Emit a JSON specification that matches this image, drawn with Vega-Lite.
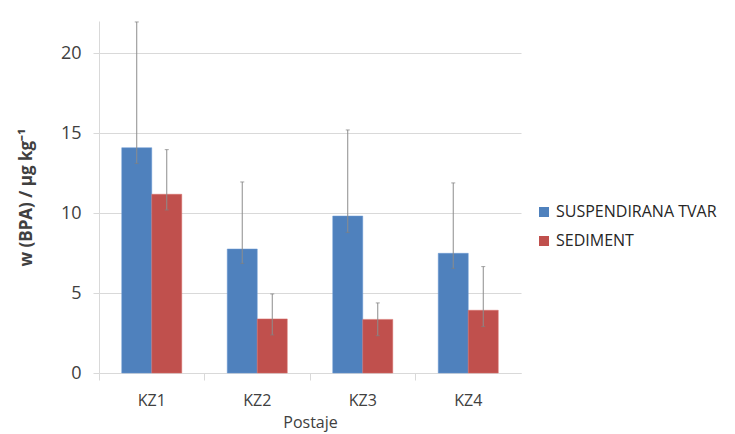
{
  "$schema": "https://vega.github.io/schema/vega-lite/v6.json",
  "width": 422,
  "height": 352,
  "autosize": "none",
  "padding": {"left": 99, "top": 21, "right": 214, "bottom": 61},
  "background": "white",
  "config": {
    "font": "Open Sans",
    "view": {"stroke": null},
    "axis": {"labelFont": "Open Sans", "titleFont": "Open Sans", "labelColor": "#404040", "titleColor": "#404040"}
  },
  "data": {
    "values": [
      {"station": "KZ1", "series": "SUSPENDIRANA TVAR", "value": 14.08, "lo": 13.1, "hi": 21.94},
      {"station": "KZ1", "series": "SEDIMENT", "value": 11.17, "lo": 10.19, "hi": 13.96},
      {"station": "KZ2", "series": "SUSPENDIRANA TVAR", "value": 7.75, "lo": 6.85, "hi": 11.94},
      {"station": "KZ2", "series": "SEDIMENT", "value": 3.38, "lo": 2.38, "hi": 4.94},
      {"station": "KZ3", "series": "SUSPENDIRANA TVAR", "value": 9.81, "lo": 8.79, "hi": 15.19},
      {"station": "KZ3", "series": "SEDIMENT", "value": 3.35, "lo": 2.33, "hi": 4.38},
      {"station": "KZ4", "series": "SUSPENDIRANA TVAR", "value": 7.48, "lo": 6.54, "hi": 11.88},
      {"station": "KZ4", "series": "SEDIMENT", "value": 3.92, "lo": 2.9, "hi": 6.65}
    ]
  },
  "encoding": {
    "x": {
      "field": "station", "type": "nominal",
      "scale": {"paddingInner": 0, "paddingOuter": 0},
      "axis": {
        "title": "Postaje", "labelAngle": 0, "bandPosition": 0,
        "domainColor": "#d9d9d9", "tickColor": "#d9d9d9", "tickSize": 7,
        "labelFontSize": 16, "labelPadding": 12, "titleFontSize": 16, "titleFontWeight": "normal", "titlePadding": 6
      }
    },
    "xOffset": {
      "field": "series", "type": "nominal",
      "sort": ["SUSPENDIRANA TVAR", "SEDIMENT"],
      "scale": {"paddingInner": 0, "paddingOuter": 0.758}
    }
  },
  "layer": [
    {
      "mark": {"type": "bar", "strokeWidth": 1, "strokeOpacity": 0.5},
      "encoding": {
        "y": {
          "field": "value", "type": "quantitative",
          "scale": {"domain": [0, 22], "nice": false},
          "axis": {
            "title": "w (BPA) / μg kg⁻¹", "values": [0, 5, 10, 15, 20],
            "domainColor": "#d9d9d9", "gridColor": "#d9d9d9", "tickColor": "#d9d9d9", "tickSize": 6,
            "labelFontSize": 18, "labelPadding": 12, "titleFontSize": 17, "titleFontWeight": "bold", "titlePadding": 25
          }
        },
        "color": {
          "field": "series", "type": "nominal",
          "sort": ["SUSPENDIRANA TVAR", "SEDIMENT"],
          "scale": {"range": ["#4F81BD", "#C0504D"]},
          "legend": {
            "title": null, "orient": "none", "legendX": 437, "legendY": 183,
            "symbolType": "square", "symbolSize": 100, "symbolStrokeWidth": 0,
            "labelFontSize": 16, "labelLimit": 400, "labelColor": "#262626", "rowPadding": 13, "labelOffset": 4
          }
        },
        "stroke": {
          "field": "series", "type": "nominal",
          "sort": ["SUSPENDIRANA TVAR", "SEDIMENT"],
          "scale": {"range": ["#6a9ad6", "#d76d6a"]},
          "legend": null
        }
      }
    },
    {
      "mark": {"type": "rule", "color": "#8c8c8c", "strokeWidth": 1},
      "encoding": {
        "y": {"field": "lo", "type": "quantitative"},
        "y2": {"field": "hi"}
      }
    },
    {
      "mark": {"type": "tick", "color": "#7f7f7f", "size": 4, "thickness": 1},
      "encoding": {"y": {"field": "lo", "type": "quantitative"}}
    },
    {
      "mark": {"type": "tick", "color": "#7f7f7f", "size": 4, "thickness": 1},
      "encoding": {"y": {"field": "hi", "type": "quantitative"}}
    }
  ]
}
